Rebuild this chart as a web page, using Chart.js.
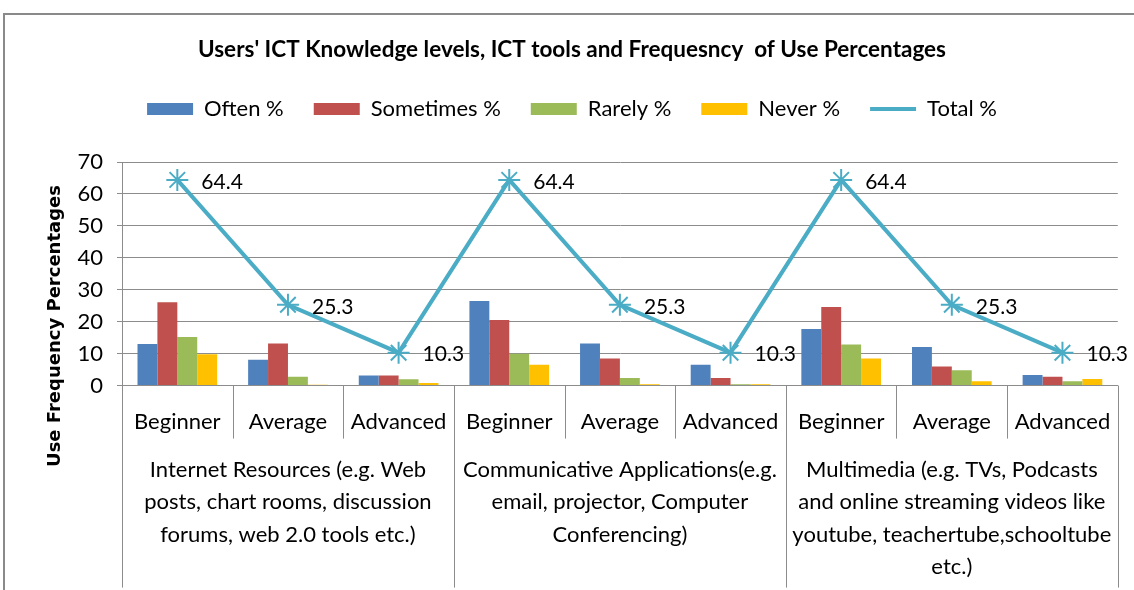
<!DOCTYPE html>
<html>
<head>
<meta charset="utf-8">
<script src="https://cdn.jsdelivr.net/npm/chart.js@4.4.1/dist/chart.umd.min.js"></script>
<style>
  html, body { margin: 0; padding: 0; background: #fff; overflow: hidden; }
  #wrap { position: relative; width: 1134px; height: 590px; }
  #frame { position: absolute; left: 3px; top: 13px; width: 1140px; height: 590px; border: 2px solid #8a8a8a; box-sizing: border-box; }
  canvas { position: absolute; left: 0; top: 0; }
</style>
</head>
<body>
<div id="wrap">
  <div id="frame"></div>
  <canvas id="chart" width="1134" height="590"></canvas>
</div>
<script>
// knowledge level under each tool group
const levels = ['Beginner', 'Average', 'Advanced', 'Beginner', 'Average', 'Advanced', 'Beginner', 'Average', 'Advanced'];
const groups = [
  ['Internet Resources (e.g. Web', 'posts, chart rooms, discussion', 'forums, web 2.0 tools etc.)'],
  ['Communicative Applications(e.g.', 'email, projector, Computer', 'Conferencing)'],
  ['Multimedia (e.g. TVs, Podcasts', 'and online streaming videos like', 'youtube, teachertube,schooltube', 'etc.)']
];

const often     = [13.0, 8.1, 3.2, 26.5, 13.2, 6.5, 17.7, 12.1, 3.3];
const sometimes = [26.1, 13.2, 3.2, 20.5, 8.5, 2.4, 24.6, 6.0, 2.8];
const rarely    = [15.2, 2.8, 2.0, 10.0, 2.4, 0.4, 12.9, 4.8, 1.4];
const never     = [9.8, 0.3, 0.8, 6.5, 0.4, 0.4, 8.5, 1.4, 2.1];
const total     = [64.4, 25.3, 10.3, 64.4, 25.3, 10.3, 64.4, 25.3, 10.3];

const yTicks = [0, 10, 20, 30, 40, 50, 60, 70];
const chartTitle = "Users' ICT Knowledge levels, ICT tools and Frequesncy  of Use Percentages";
const yTitle = 'Use Frequency Percentages';

const FONT = 'Lato, "Open Sans", sans-serif';
const GRID = '#8c8c8c';

// leave a gap between the legend and the plot
const legendGapPlugin = {
    id: 'legendGap',
    afterInit(chart) {
        const lg = chart.legend;
        const fit = lg.fit.bind(lg);
        lg.fit = function () { fit(); this.height += 32; };
    }
};

// draws the separators, group names, value labels and the y title
const extrasPlugin = {
    id: 'extras',
    afterDraw(chart) {
        const ctx = chart.ctx;
        const xs = chart.scales.x;
        const area = chart.chartArea;
        const half = (xs.getPixelForValue(1) - xs.getPixelForValue(0)) / 2;

        ctx.save();
        ctx.strokeStyle = GRID;
        ctx.lineWidth = 1;
        for (let i = 0; i <= levels.length; i++) {
            const px = Math.round(xs.getPixelForValue(i) - half) + 0.5;
            const longLine = i % 3 === 0;
            ctx.beginPath();
            ctx.moveTo(px, area.bottom);
            ctx.lineTo(px, area.bottom + (longLine ? 202 : 53));
            ctx.stroke();
        }

        ctx.fillStyle = '#000';
        ctx.textAlign = 'center';
        ctx.textBaseline = 'middle';
        ctx.font = '22px ' + FONT;
        groups.forEach((lines, g) => {
            const cx = xs.getPixelForValue(g * 3 + 1);
            lines.forEach((t, k) => ctx.fillText(t, cx, area.bottom + 84 + k * 32.5));
        });

        const meta = chart.getDatasetMeta(4);
        ctx.textAlign = 'left';
        ctx.font = '21px ' + FONT;
        meta.data.forEach((pt, i) => {
            ctx.fillText(total[i].toFixed(1), pt.x + 24, pt.y + 2);
        });

        ctx.translate(55, 326);
        ctx.rotate(-Math.PI / 2);
        ctx.textAlign = 'center';
        ctx.font = 'bold 18px "DejaVu Sans", sans-serif';
        ctx.fillText(yTitle, 0, 0);
        ctx.restore();
    }
};

const barSet = (label, data, color) => ({
    type: 'bar',
    label: label,
    data: data,
    backgroundColor: color,
    borderWidth: 0,
    categoryPercentage: 0.72,
    barPercentage: 1.0,
    order: 1
});

new Chart(document.getElementById('chart'), {
    data: {
        labels: levels,
        datasets: [
            barSet('Often %', often, '#4f81bd'),
            barSet('Sometimes %', sometimes, '#c0504d'),
            barSet('Rarely %', rarely, '#9bbb59'),
            barSet('Never %', never, '#ffc000'),
            {
                type: 'line',
                label: 'Total %',
                data: total,
                borderColor: '#4bacc6',
                backgroundColor: '#4bacc6',
                borderWidth: 4,
                pointStyle: 'star',
                pointRadius: 11,
                pointBorderWidth: 2,
                pointBorderColor: '#4bacc6',
                tension: 0,
                order: 0
            }
        ]
    },
    options: {
        responsive: false,
        animation: false,
        layout: { padding: { left: 24, right: 14, top: 0, bottom: 132 } },
        scales: {
            x: {
                grid: { display: true, drawOnChartArea: false, drawTicks: false, color: GRID },
                border: { display: true, color: GRID, width: 1 },
                ticks: { color: '#000', font: { family: FONT, size: 22 }, padding: 23, maxRotation: 0, autoSkip: false }
            },
            y: {
                min: 0,
                max: 70,
                afterFit: (scale) => { scale.width = 98; },
                afterBuildTicks: (scale) => { scale.ticks = yTicks.map(v => ({ value: v })); },
                grid: { color: GRID, lineWidth: 1, tickLength: 5 },
                border: { display: true, color: GRID, width: 1 },
                ticks: { color: '#000', font: { family: FONT, size: 22 }, padding: 14 }
            }
        },
        plugins: {
            title: {
                display: true,
                text: chartTitle,
                color: '#000',
                font: { family: FONT, size: 22.5, weight: 'bold' },
                padding: { top: 36, bottom: 5 }
            },
            legend: {
                display: true,
                position: 'top',
                sort: (a, b) => a.datasetIndex - b.datasetIndex,
                labels: {
                    color: '#000',
                    font: { family: FONT, size: 22 },
                    boxWidth: 46,
                    boxHeight: 12,
                    padding: 30,
                    usePointStyle: true,
                    pointStyleWidth: 46,
                    generateLabels: (chart) => chart.data.datasets.map((ds, i) => ({
                        text: ds.label,
                        fillStyle: ds.backgroundColor,
                        strokeStyle: ds.type === 'line' ? ds.borderColor : ds.backgroundColor,
                        lineWidth: ds.type === 'line' ? 4 : 0,
                        pointStyle: ds.type === 'line' ? 'line' : 'rect',
                        fontColor: '#000',
                        hidden: false,
                        datasetIndex: i
                    }))
                }
            },
            tooltip: { enabled: false }
        }
    },
    plugins: [legendGapPlugin, extrasPlugin]
});
</script>
</body>
</html>
